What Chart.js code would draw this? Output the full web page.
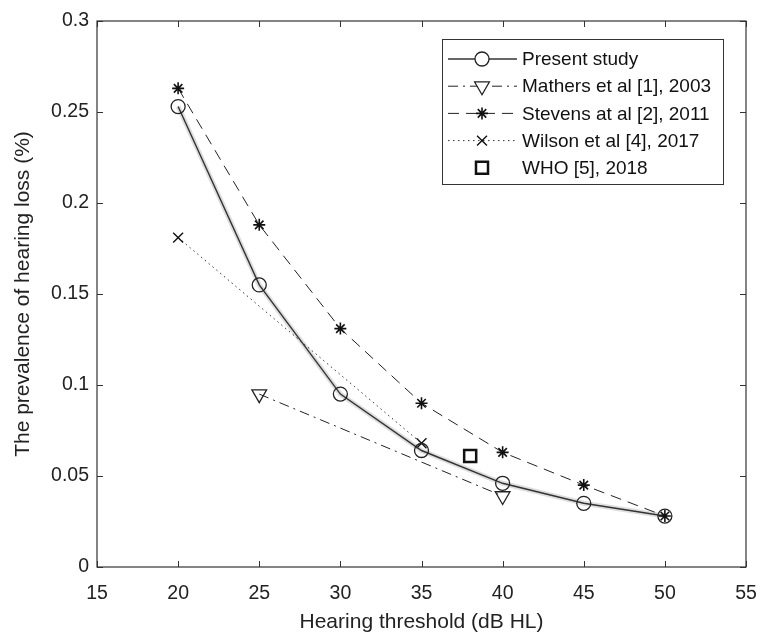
<!DOCTYPE html>
<html>
<head>
<meta charset="utf-8">
<script src="https://cdn.jsdelivr.net/npm/chart.js@4/dist/chart.umd.min.js"></script>
<style>
  html, body { margin: 0; padding: 0; background: #fff; }
  #wrap { width: 760px; height: 635px; }
</style>
</head>
<body>
<div id="wrap"><canvas id="chart" width="760" height="635"></canvas></div>
<script>
// values
const thresholds = [20, 25, 30, 35, 40, 45, 50];
const presentStudy = [0.253, 0.155, 0.095, 0.064, 0.046, 0.035, 0.028];
const stevensX = [20, 25, 30, 35, 40, 45, 50];
const stevens = [0.263, 0.188, 0.131, 0.090, 0.063, 0.045, 0.028];
const mathersX = [25, 40];
const mathers = [0.095, 0.039];
const wilsonX = [20, 35];
const wilson = [0.181, 0.068];
const whoX = [38];
const who = [0.061];
const xTicks = [15, 20, 25, 30, 35, 40, 45, 50, 55];
const yTicks = [0, 0.05, 0.1, 0.15, 0.2, 0.25, 0.3];

const FONT = "'Liberation Sans', Arial, sans-serif";
const pts = (xs, ys) => xs.map((x, i) => ({ x: x, y: ys[i] }));

const datasets = [
  {
    label: 'Present study', data: pts(thresholds, presentStudy), showLine: true,
    borderColor: '#333', borderWidth: 1.4, pointStyle: 'circle', pointRadius: 7,
    pointBorderWidth: 1.3, pointBorderColor: '#222', pointBackgroundColor: 'rgba(0,0,0,0)', order: 1
  },
  {
    label: 'Mathers et al [1], 2003', data: pts(mathersX, mathers), showLine: true,
    borderColor: '#222', borderWidth: 1, borderDash: [10, 5, 2, 5], pointStyle: 'triangle',
    pointRotation: 180, pointRadius: 8.5, pointBorderWidth: 1.3, pointBorderColor: '#222',
    pointBackgroundColor: 'rgba(0,0,0,0)', order: 2
  },
  {
    label: 'Stevens at al [2], 2011', data: pts(stevensX, stevens), showLine: true,
    borderColor: '#222', borderWidth: 1, borderDash: [11, 7], pointStyle: 'star',
    pointRadius: 6, pointBorderWidth: 1.6, pointBorderColor: '#111', order: 0
  },
  {
    label: 'Wilson et al [4], 2017', data: pts(wilsonX, wilson), showLine: true,
    borderColor: '#333', borderWidth: 1, borderDash: [1.5, 3.5], pointStyle: 'crossRot',
    pointRadius: 7, pointBorderWidth: 1.4, pointBorderColor: '#111', order: 3
  },
  {
    label: 'WHO [5], 2018', data: pts(whoX, who), showLine: false,
    pointStyle: 'rect', pointRadius: 8.5, pointBorderWidth: 2.5, pointBorderColor: '#111',
    pointBackgroundColor: 'rgba(0,0,0,0)', order: 4
  },
  {
    label: 'band', data: pts(thresholds, presentStudy), showLine: true,
    borderColor: 'rgba(0,0,0,0.13)', borderWidth: 5, pointRadius: 0, order: 10
  }
];

// box round the plot with inward ticks, like the original
const frame = {
  id: 'frame',
  beforeDatasetsDraw(chart) {
    const { ctx, chartArea: a, scales: { x, y } } = chart;
    ctx.save();
    ctx.strokeStyle = '#333';
    ctx.lineWidth = 1.2;
    ctx.strokeRect(a.left, a.top, a.right - a.left, a.bottom - a.top);
    ctx.lineWidth = 1;
    ctx.beginPath();
    xTicks.forEach(v => {
      const px = Math.round(x.getPixelForValue(v)) + 0.5;
      ctx.moveTo(px, a.bottom); ctx.lineTo(px, a.bottom - 6);
      ctx.moveTo(px, a.top); ctx.lineTo(px, a.top + 6);
    });
    yTicks.forEach(v => {
      const py = Math.round(y.getPixelForValue(v)) + 0.5;
      ctx.moveTo(a.left, py); ctx.lineTo(a.left + 6, py);
      ctx.moveTo(a.right, py); ctx.lineTo(a.right - 6, py);
    });
    ctx.stroke();
    ctx.restore();
  }
};

// legend box inside the plot, line sample + marker per entry
const legendBox = {
  id: 'legendBox',
  afterDraw(chart) {
    const ctx = chart.ctx;
    const bx = 442, by = 39, bw = 281, bh = 145;
    ctx.save();
    ctx.fillStyle = '#fff';
    ctx.fillRect(bx, by, bw, bh);
    ctx.strokeStyle = '#333';
    ctx.lineWidth = 1;
    ctx.strokeRect(bx + 0.5, by + 0.5, bw, bh);
    const shown = chart.data.datasets.filter(d => d.label !== 'band');
    shown.forEach((d, i) => {
      const yy = 59 + i * 27.2;
      if (d.showLine) {
        ctx.save();
        ctx.strokeStyle = d.borderColor;
        ctx.lineWidth = d.borderWidth;
        ctx.setLineDash(d.borderDash || []);
        ctx.beginPath();
        ctx.moveTo(448, yy); ctx.lineTo(517, yy);
        ctx.stroke();
        ctx.restore();
      }
      ctx.save();
      ctx.strokeStyle = d.pointBorderColor;
      ctx.lineWidth = d.pointBorderWidth;
      ctx.fillStyle = '#fff';
      ctx.setLineDash([]);
      Chart.helpers.drawPoint(ctx, {
        pointStyle: d.pointStyle, radius: d.pointRadius, rotation: d.pointRotation || 0,
        borderWidth: d.pointBorderWidth
      }, 482, yy);
      ctx.restore();
      ctx.fillStyle = '#111';
      ctx.font = '19px ' + FONT;
      ctx.textBaseline = 'middle';
      ctx.textAlign = 'left';
      ctx.fillText(d.label, 522, yy + 1);
    });
    ctx.restore();
  }
};

new Chart(document.getElementById('chart'), {
  type: 'scatter',
  data: { datasets: datasets },
  options: {
    responsive: false,
    animation: false,
    layout: { padding: { top: 21, right: 14, left: 0, bottom: 0 } },
    plugins: { legend: { display: false }, tooltip: { enabled: false } },
    scales: {
      x: {
        type: 'linear', min: 15, max: 55,
        afterBuildTicks: s => { s.ticks = xTicks.map(v => ({ value: v })); },
        afterFit: s => { s.height = 68; s.paddingLeft = 0; s.paddingRight = 0; },
        grid: { display: false, drawTicks: false }, border: { display: false },
        ticks: { color: '#222', padding: 15, maxRotation: 0, font: { family: FONT, size: 19.5 } },
        title: { display: true, text: 'Hearing threshold (dB HL)', color: '#222',
                 padding: { top: 0, bottom: 0 }, font: { family: FONT, size: 21 } }
      },
      y: {
        type: 'linear', min: 0, max: 0.3,
        afterBuildTicks: s => { s.ticks = yTicks.map(v => ({ value: v })); },
        afterFit: s => { s.width = 97; s.paddingTop = 0; s.paddingBottom = 0; },
        grid: { display: false, drawTicks: false }, border: { display: false },
        ticks: { color: '#222', padding: 8, font: { family: FONT, size: 19.5 },
                 callback: v => String(+v.toFixed(2)) },
        title: { display: true, text: 'The prevalence of hearing loss (%)', color: '#222',
                 padding: { top: 11, bottom: 0 }, font: { family: FONT, size: 21 } }
      }
    }
  },
  plugins: [frame, legendBox]
});
</script>
</body>
</html>
